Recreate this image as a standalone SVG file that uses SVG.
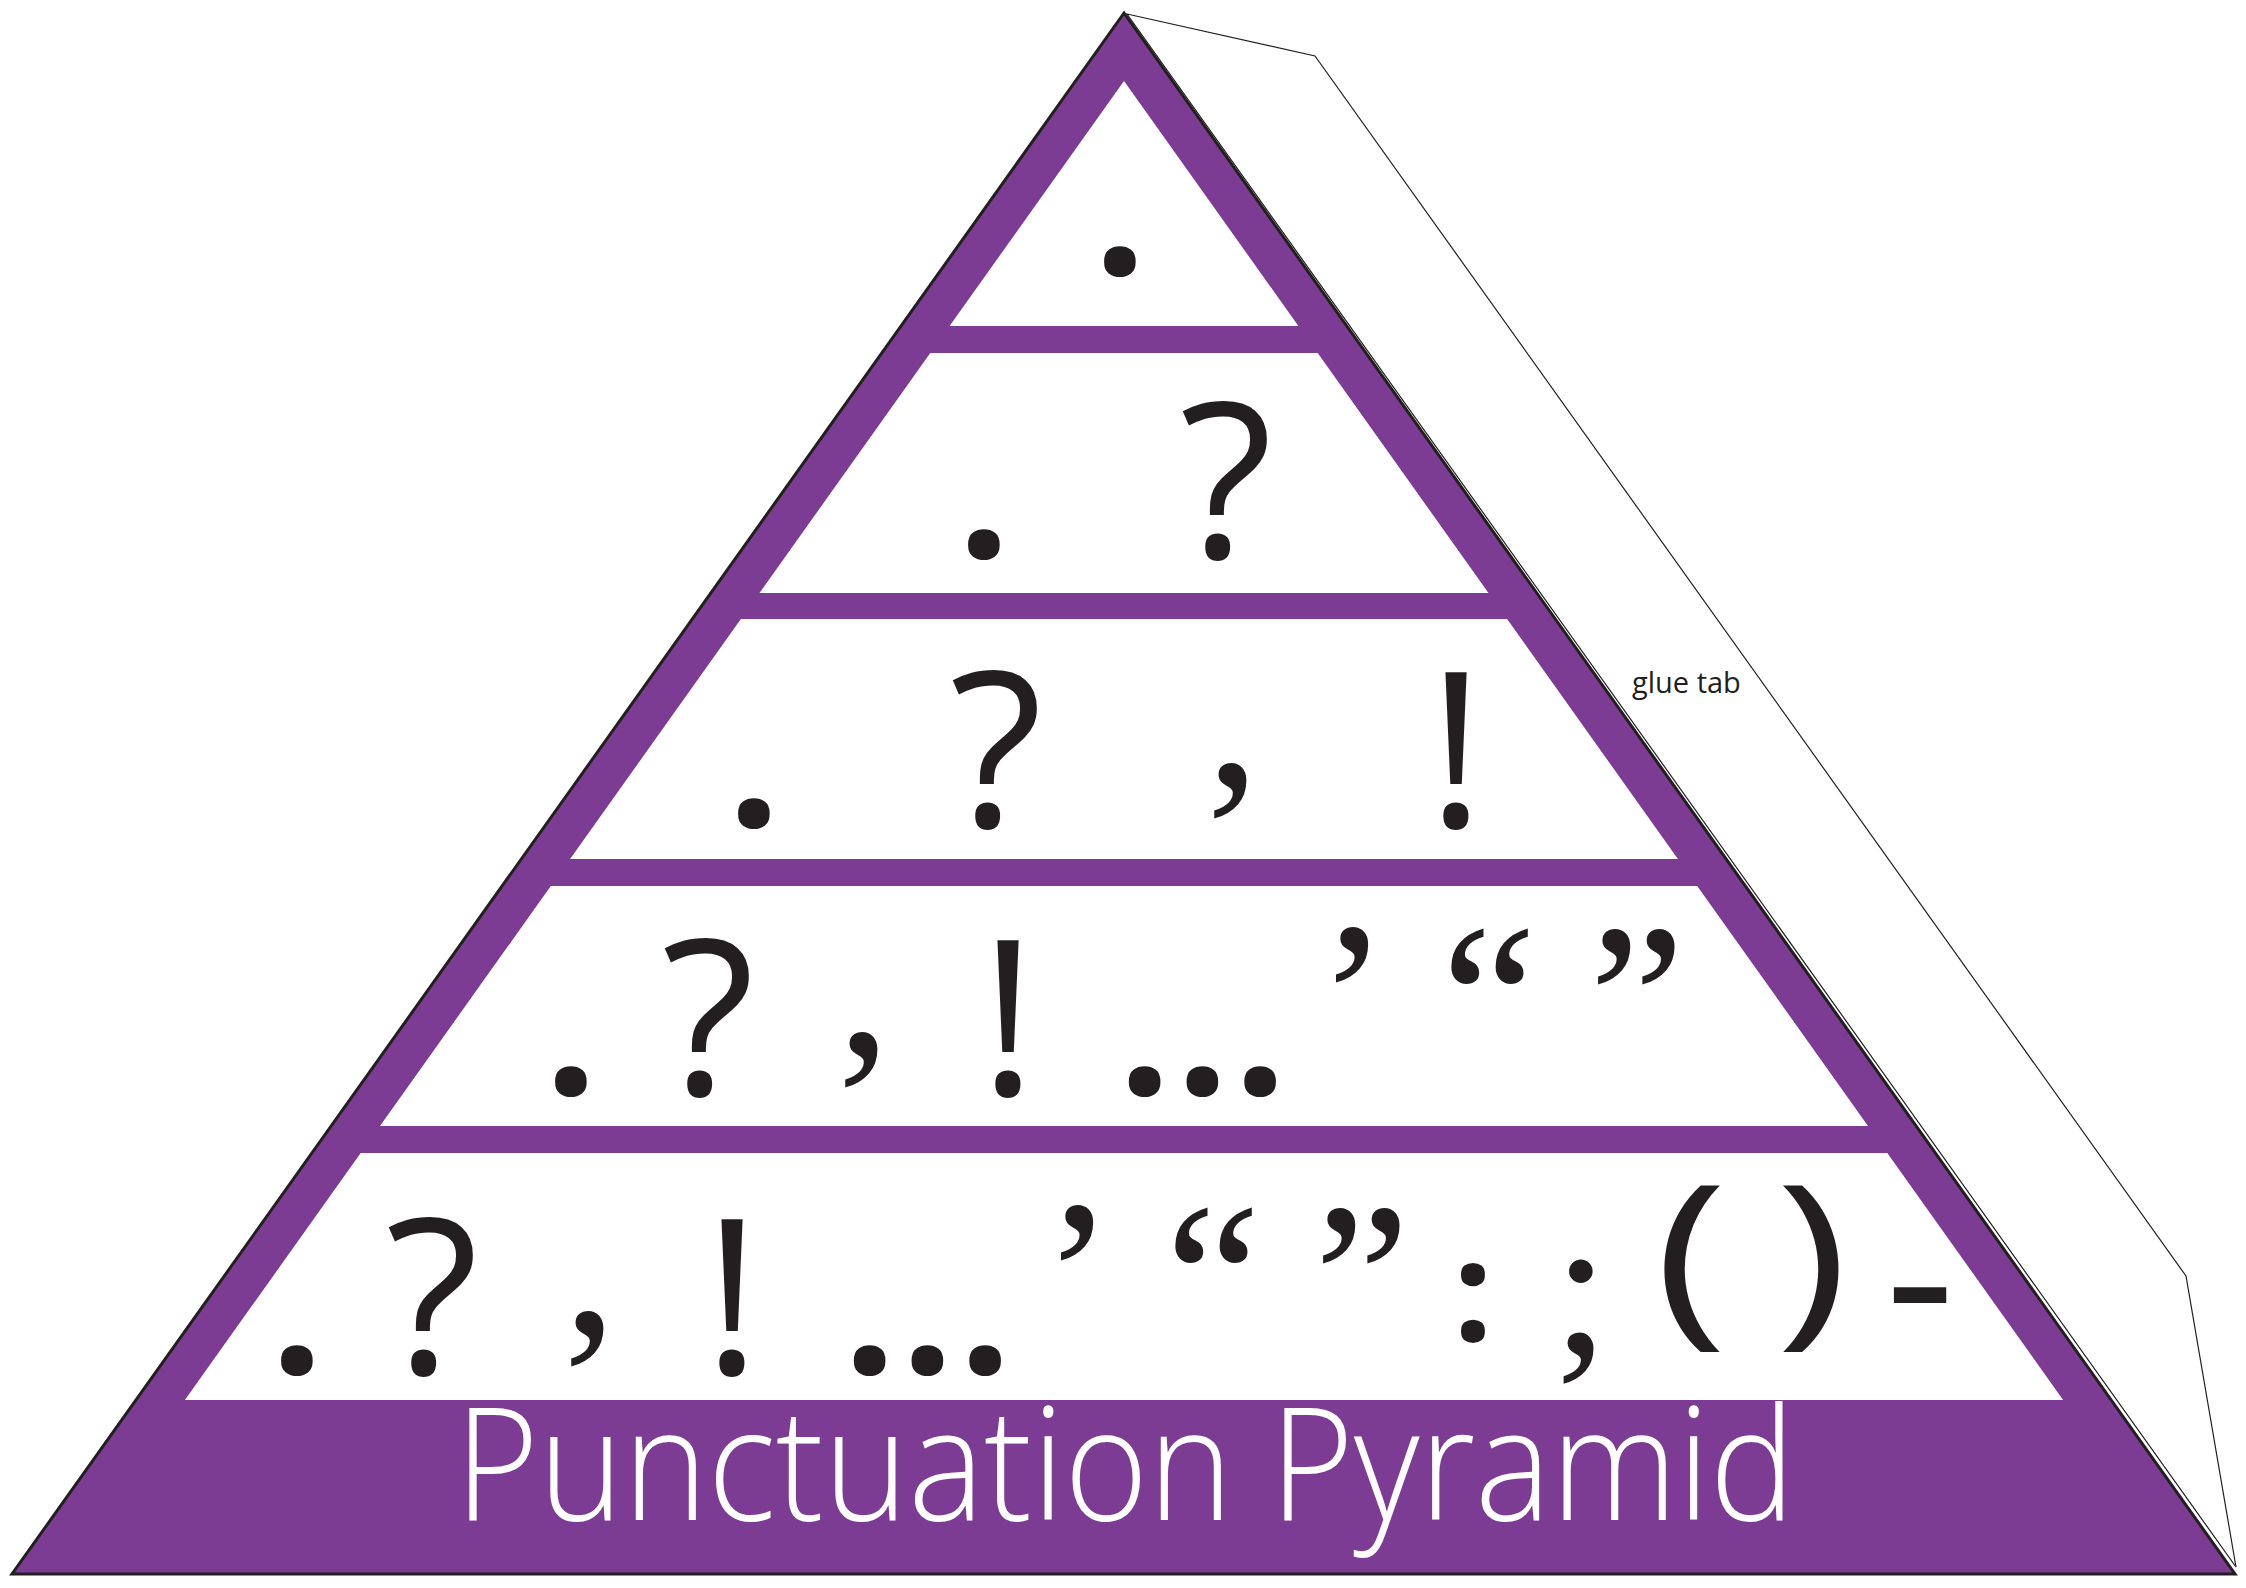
<svg xmlns="http://www.w3.org/2000/svg" width="2246" height="1588" viewBox="0 0 2246 1588">
  <style>
    .p { font-family: "Open Sans", "DejaVu Sans", sans-serif; font-size: 216px; fill: #231F20; text-anchor: middle; }
    .d { font-family: "Open Sans", "DejaVu Sans", sans-serif; font-size: 185px; font-weight: 700; fill: #231F20; text-anchor: middle; }
    .pb { font-family: "Open Sans", "DejaVu Sans", sans-serif; font-weight: 700; fill: #231F20; text-anchor: middle; }
    .q { font-family: "Liberation Serif", "Times New Roman", serif; font-size: 216px; fill: #231F20; text-anchor: middle; }
    .row { fill: #FFFFFF; }
    .title { font-family: "Open Sans", "DejaVu Sans", sans-serif; font-size: 157px; font-weight: 300; fill: #FFFFFF; }
    .tab { font-family: "Open Sans", "DejaVu Sans", sans-serif; font-size: 29px; fill: #231F20; }
  </style>
  <rect width="2246" height="1588" fill="#FFFFFF"/>
  <g id="glue-tab">
    <polygon points="1127,14 1315,56 2186,1276 2236,1567" fill="#FFFFFF" stroke="#231F20" stroke-width="1.2" stroke-linejoin="miter"/>
    <text class="tab" x="1632" y="693">glue tab</text>
  </g>
  <g id="pyramid">
    <polygon points="1124,13 12,1574 2235,1574" fill="#7D3C94" stroke="#231F20" stroke-width="3" stroke-linejoin="miter"/>
    <polygon id="row1" class="row" points="1124,81 949.6,326 1298.4,326"/>
    <polygon id="row2" class="row" points="930.3,353 1317.7,353 1488.5,593 759.5,593"/>
    <polygon id="row3" class="row" points="740.9,619 1507.1,619 1677.9,859 570.1,859"/>
    <polygon id="row4" class="row" points="550.8,886 1697.2,886 1868,1126 380,1126"/>
    <polygon id="row5" class="row" points="360.7,1153 1887.3,1153 2063.1,1400 184.9,1400"/>
  </g>
  <g id="tier1">
    <text class="d" x="1120" y="275">.</text>
  </g>
  <g id="tier2">
    <text class="d" x="984" y="558">.</text>
    <text class="p" x="1226" y="558">?</text>
  </g>
  <g id="tier3">
    <text class="d" x="754" y="827">.</text>
    <text class="p" x="996" y="827">?</text>
    <text class="q" x="1233" y="785">,</text>
    <text class="p" x="1456" y="827">!</text>
  </g>
  <g id="tier4">
    <text class="d" x="571" y="1095">.</text>
    <text class="p" x="708" y="1095">?</text>
    <text class="q" x="864" y="1054">,</text>
    <text class="p" x="1008" y="1095">!</text>
    <text class="d" x="1205" y="1095" letter-spacing="5">...</text>
    <text class="q" x="1353" y="1071">’</text>
    <text class="q" x="1489" y="1073">“</text>
    <text class="q" x="1637" y="1073">”</text>
  </g>
  <g id="tier5">
    <text class="d" x="297" y="1374">.</text>
    <text class="p" x="432" y="1374">?</text>
    <text class="q" x="590" y="1333">,</text>
    <text class="p" x="732" y="1374">!</text>
    <text class="d" x="930" y="1374" letter-spacing="5">...</text>
    <text class="q" x="1078" y="1349">’</text>
    <text class="q" x="1213" y="1352">“</text>
    <text class="q" x="1362" y="1352">”</text>
    <text class="pb" x="1473" y="1341" style="font-size:140px">:</text>
    <text class="q" x="1581" y="1353" style="font-size:200px">;</text>
    <text class="p" style="font-size:190px" transform="translate(1691,1322) scale(1.3,1)" x="0" y="0">(</text>
    <text class="p" style="font-size:190px" transform="translate(1812,1322) scale(1.3,1)" x="0" y="0">)</text>
    <text class="p" x="1920" y="1353">-</text>
  </g>
  <g id="title">
    <text class="title" x="455" y="1520" textLength="1340" lengthAdjust="spacingAndGlyphs">Punctuation Pyramid</text>
  </g>
</svg>
